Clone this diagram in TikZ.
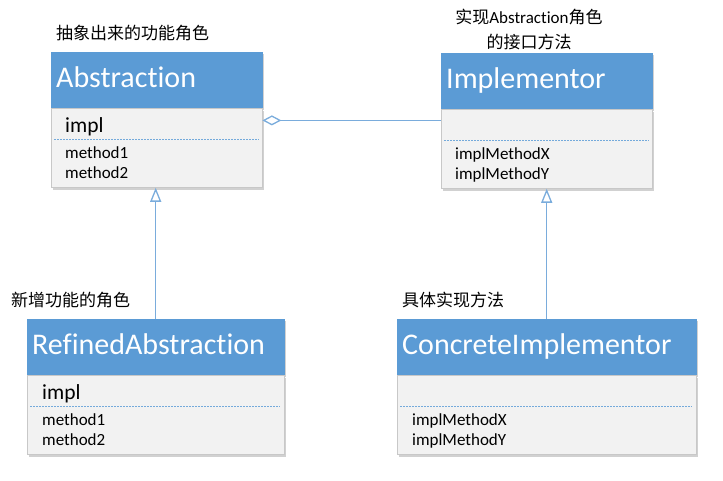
\documentclass[tikz,border=0pt]{standalone}
\usepackage{fontspec}
\setmainfont{Carlito}[Ligatures=NoCommon]
\newfontfamily\cjk{Noto Sans CJK SC}
\usetikzlibrary{arrows.meta,shadows}

\definecolor{umlblue}{HTML}{5B9BD5}
\definecolor{linkblue}{HTML}{7AACDC}
\definecolor{bodygray}{HTML}{F2F2F2}
\definecolor{edgegray}{HTML}{C8C8C8}

\tikzset{
  boxshadow/.style={drop shadow={shadow xshift=1.5pt,shadow yshift=-2pt,opacity=.18,fill=black}},
  hdr/.style={draw=umlblue,fill=umlblue,text=white,anchor=north west,
    minimum height=56pt,text height=20pt,text depth=6pt,inner xsep=5pt,
    align=left,font=\fontsize{30}{33}\selectfont,boxshadow},
  body/.style={draw=edgegray,fill=bodygray,anchor=north west,
    minimum height=79pt,inner sep=0pt,boxshadow},
  field/.style={anchor=base west,inner sep=0pt,font=\fontsize{21.5}{24}\selectfont},
  member/.style={anchor=base west,inner sep=0pt,font=\fontsize{17}{20}\selectfont},
  note/.style={inner sep=0pt,font=\cjk\fontsize{17}{24.5}\selectfont},
  sepline/.style={draw=umlblue!85,line width=1pt,dash pattern=on 1.8pt off 1.2pt},
  aggr/.style={draw=linkblue,line width=1.3pt,{Diamond[open,length=19pt,width=10pt]}-},
  inherit/.style={draw=linkblue,line width=1.3pt,-{Triangle[open,length=14pt,width=11pt]}}
}

\begin{document}
\begin{tikzpicture}[x=1pt,y=-1pt]
  \useasboundingbox (0,0) rectangle (723,481);

  % class boxes
  \node[hdr,text width=201pt] (absh) at (51,52) {Abstraction};
  \node[body,minimum width=211pt] (absb) at (absh.south west) {};
  \node[hdr,text width=201pt] (imph) at (441,53) {Implementor};
  \node[body,minimum width=211pt] (impb) at (imph.south west) {};
  \node[hdr,text width=247pt] (refh) at (27,319) {RefinedAbstraction};
  \node[body,minimum width=257pt] (refb) at (refh.south west) {};
  \node[hdr,text width=289pt] (conh) at (397,319) {ConcreteImplementor};
  \node[body,minimum width=299pt] (conb) at (conh.south west) {};

  % members
  \node[field] (absimpl) at ([shift={(14,24)}]absb.north west) {impl};
  \node[member] (absm1) at ([shift={(14,50)}]absb.north west) {method1};
  \node[member] (absm2) at ([shift={(14,70)}]absb.north west) {method2};
  \node[member] (impx) at ([shift={(14,50)}]impb.north west) {implMethodX};
  \node[member] (impy) at ([shift={(14,70)}]impb.north west) {implMethodY};
  \node[field] (refimpl) at ([shift={(15,24)}]refb.north west) {impl};
  \node[member] (refm1) at ([shift={(15,50)}]refb.north west) {method1};
  \node[member] (refm2) at ([shift={(15,70)}]refb.north west) {method2};
  \node[member] (conx) at ([shift={(15,50)}]conb.north west) {implMethodX};
  \node[member] (cony) at ([shift={(15,70)}]conb.north west) {implMethodY};

  \foreach \b in {absb,impb,refb,conb}
    \draw[sepline] ([shift={(3,31.5)}]\b.north west) -- ([shift={(-4,31.5)}]\b.north east);

  % notes
  \node[note,anchor=base west] (absnote) at (56,39.5) {抽象出来的功能角色};
  \node[note,anchor=base,align=center] (impnote) at (529,48.5)
    {实现{\rmfamily Abstraction}角色\\的接口方法};
  \node[note,anchor=base west] (refnote) at (11,306.5) {新增功能的角色};
  \node[note,anchor=base west] (connote) at (402,306) {具体实现方法};

  % relations
  \draw[aggr] ([yshift=-12pt]absb.north east) -- ([yshift=-11pt]impb.north west);
  \foreach \from/\to in {refh/absb,conh/impb}
    \draw[inherit] (\from.north) -- (\from.north |- \to.south);
\end{tikzpicture}
\end{document}
